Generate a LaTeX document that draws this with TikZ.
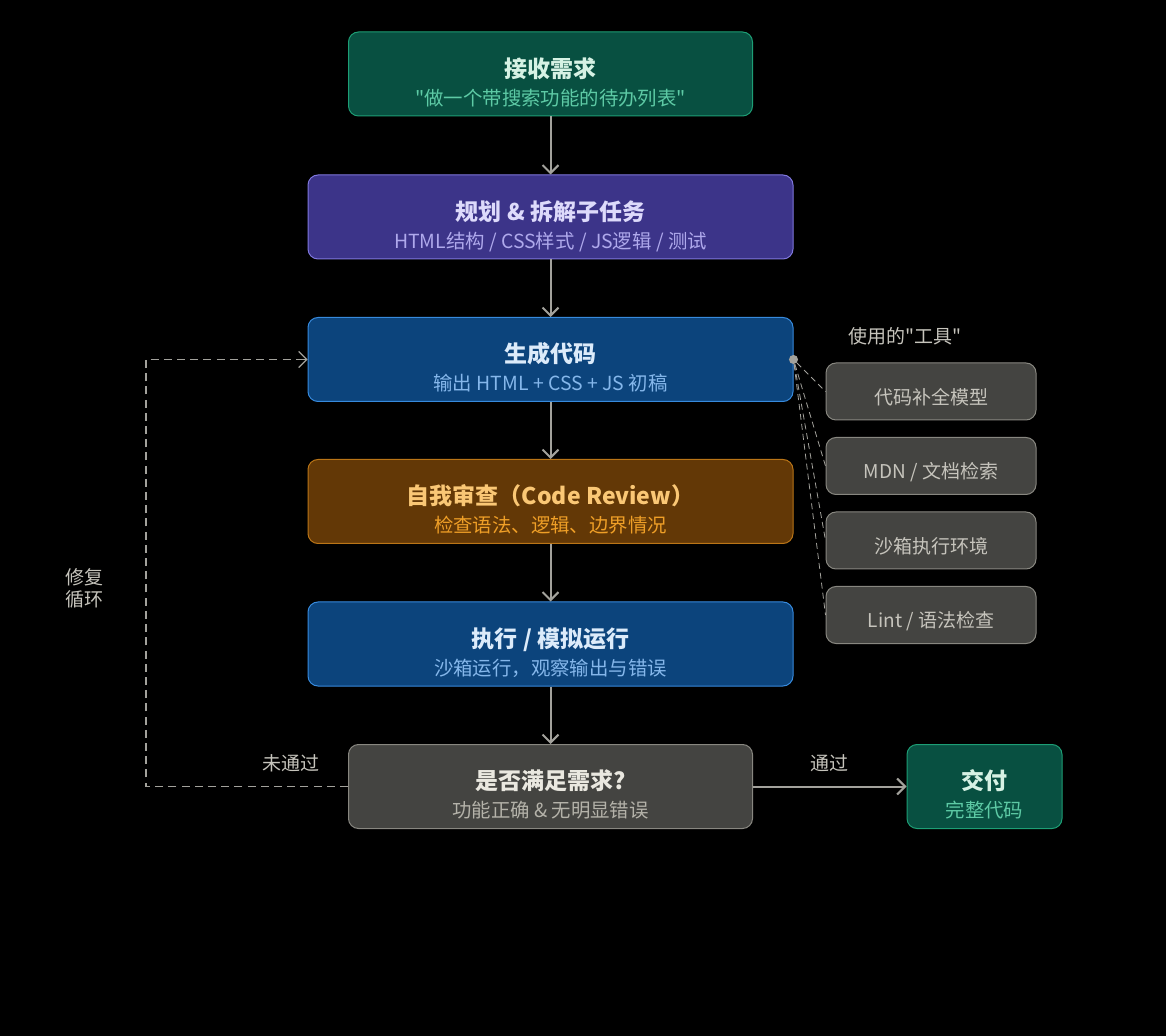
\documentclass[tikz,border=0pt]{standalone}
\usepackage{fontspec}
\setmainfont{Noto Sans CJK SC}[Ligatures=TeXOff]
\usetikzlibrary{positioning, arrows.meta}

\definecolor{tealbg}{HTML}{085041}
\definecolor{tealln}{HTML}{1D9E75}
\definecolor{tealtt}{HTML}{D6F2E4}
\definecolor{tealsb}{HTML}{5DCAA5}
\definecolor{purpbg}{HTML}{3C3489}
\definecolor{purpln}{HTML}{7F77DD}
\definecolor{purptt}{HTML}{DDDAFB}
\definecolor{purpsb}{HTML}{AFA9EC}
\definecolor{bluebg}{HTML}{0C447C}
\definecolor{blueln}{HTML}{378ADD}
\definecolor{bluett}{HTML}{DCEBFA}
\definecolor{bluesb}{HTML}{85B7EB}
\definecolor{ambbg}{HTML}{633806}
\definecolor{ambln}{HTML}{BA7517}
\definecolor{ambtt}{HTML}{FAC775}
\definecolor{ambsb}{HTML}{EF9F27}
\definecolor{graybg}{HTML}{444441}
\definecolor{grayln}{HTML}{888780}
\definecolor{graytt}{HTML}{EAE8E0}
\definecolor{graysb}{HTML}{B4B2A9}
\definecolor{wire}{HTML}{A3A29C}
\definecolor{labtx}{HTML}{C6C4BC}

\tikzset{
  box/.style = {draw, rounded corners=5pt, line width=0.5pt, minimum height=42pt, inner sep=0pt},
  ttl/.style = {font=\bfseries\fontsize{11.5}{13}\selectfont, text height=0.8em, text depth=0.2em, inner sep=0pt},
  sub/.style = {font=\fontsize{9.7}{11}\selectfont, text height=0.8em, text depth=0.2em, inner sep=0pt},
  tool/.style = {box, fill=graybg, draw=grayln, minimum width=105pt, minimum height=28.5pt},
  lab/.style = {text=labtx, font=\fontsize{9.5}{11}\selectfont, inner sep=0pt, align=center},
  flow/.style = {draw=wire, line width=1pt, -{Straight Barb[length=4pt, width=8pt]}},
  loopln/.style = {draw=wire, line width=0.6pt, dash pattern=on 4pt off 2.6pt},
  toolln/.style = {draw=wire, line width=0.4pt, dash pattern=on 3pt off 2pt},
}

% box + title + subtitle
\newcommand\flowbox[6]{%
  \node[box, fill=#4bg, draw=#4ln, minimum width=#3] (#1) at (#2) {};
  \node[ttl, text=#4tt] (#1-t) at ([yshift=1.4pt]#1.center) {#5};
  \node[sub, text=#4sb] (#1-s) at ([yshift=-12.6pt]#1.center) {#6};
}

\begin{document}
\begin{tikzpicture}[x=0.5pt, y=-0.5pt]
  \fill[black] (0,0) rectangle (1166,1036);
  \useasboundingbox (0,0) rectangle (1166,1036);

  \flowbox{recv}{550.5,74}{202pt}{teal}{接收需求}{"做一个带搜索功能的待办列表"}
  \flowbox{plan}{550.5,217}{242.5pt}{purp}{规划 \& 拆解子任务}{HTML结构 / CSS样式 / JS逻辑 / 测试}
  \flowbox{gen}{550.5,359.5}{242.5pt}{blue}{生成代码}{输出 HTML + CSS + JS 初稿}
  \flowbox{review}{550.5,501.5}{242.5pt}{amb}{自我审查（Code Review）}{检查语法、逻辑、边界情况}
  \flowbox{run}{550.5,644}{242.5pt}{blue}{执行 / 模拟运行}{沙箱运行，观察输出与错误}
  \flowbox{check}{550.5,786.5}{202pt}{gray}{是否满足需求?}{功能正确 \& 无明显错误}
  \flowbox{done}{984.5,786.5}{77.5pt}{teal}{交付}{完整代码}

  % main chain
  \draw[flow] (recv) -- (plan);
  \draw[flow] (plan) -- (gen);
  \draw[flow] (gen) -- (review);
  \draw[flow] (review) -- (run);
  \draw[flow] (run) -- (check);
  \draw[flow] (check) -- (done);
  \node[lab] (pass) at (829,763) {通过};

  % repair loop
  \coordinate (lpb) at (146,786.5);
  \draw[loopln] (check.west) -- (lpb) |- (gen.west);
  \draw[flow, line width=0.6pt] ([xshift=-2pt]gen.west) -- (gen.west);
  \node[lab] (fail) at (291,763) {未通过};
  \node[lab] (fix) at (84,588) {修复\\循环};

  % tools
  \node[lab] (toolhd) at (905,336) {使用的"工具"};
  \foreach \i/\y/\txt in {1/391.5/{代码补全模型}, 2/466/{MDN / 文档检索},
                          3/540.5/{沙箱执行环境}, 4/615/{Lint / 语法检查}} {
    \node[tool] (tool\i) at (931,\y) {};
    \node[lab] (tool\i-t) at ([yshift=-3pt]tool\i.center) {\txt};
  }
  \node[circle, fill=wire, inner sep=1.6pt] (dot) at (gen.east) {};
  \foreach \i in {1,...,4}
    \draw[toolln] (dot) -- (tool\i.west);
\end{tikzpicture}
\end{document}
